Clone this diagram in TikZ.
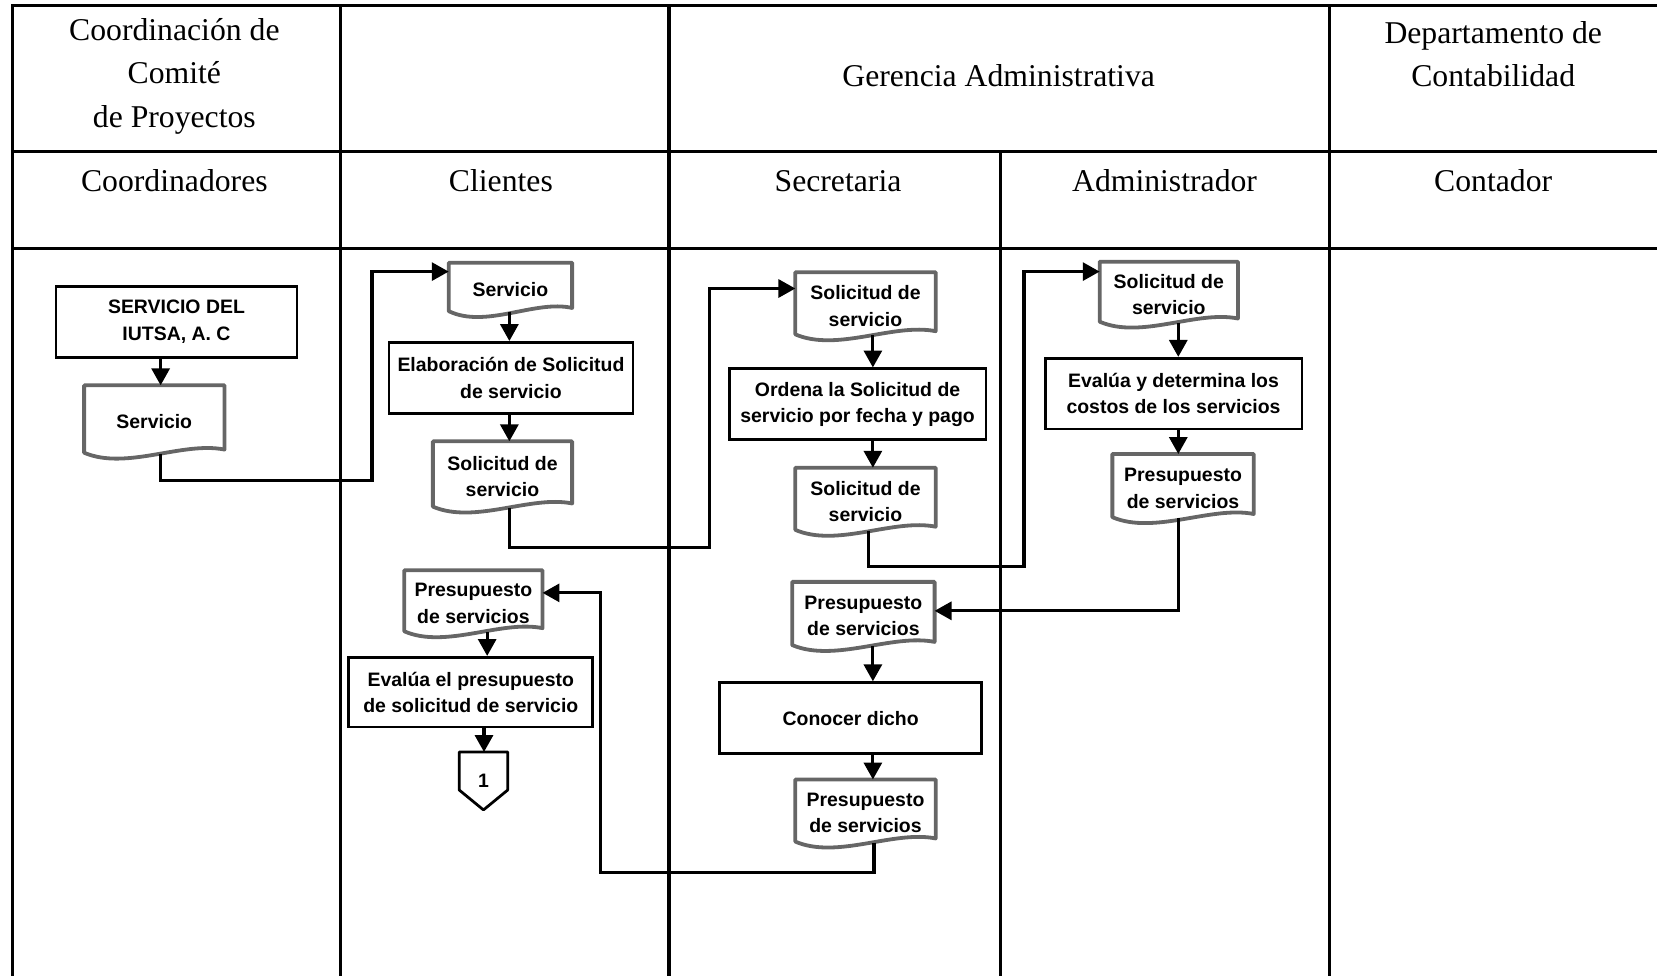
\documentclass[tikz,border=0pt]{standalone}
\usepackage{fontspec}
\setmainfont{Liberation Serif}
\setsansfont{Liberation Sans}
\usetikzlibrary{arrows.meta,calc}

\tikzset{
  grid/.style={line width=1.5pt, line cap=rect},
  headtext/.style={font=\rmfamily\fontsize{15}{20.5}\selectfont, align=center, inner sep=0pt},
  procbox/.style={draw, line width=1.3pt, inner sep=0pt, align=center,
    font=\sffamily\bfseries\fontsize{9.2}{12.5}\selectfont},
  docnode/.style={draw=none, inner sep=0pt, align=center,
    font=\sffamily\bfseries\fontsize{9.2}{12.5}\selectfont},
  docline/.style={draw=black!60, line width=1.8pt, line join=round},
  flow/.style={line width=1.5pt, -{Triangle[width=8.5pt,length=8pt]}},
}

% wavy-bottomed document outline around a named node
\newcommand\docoutline[1]{%
  \draw[docline] (#1.north west) -- (#1.north east) -- ([yshift=4pt]#1.south east)
    .. controls ($(#1.south)!0.4!(#1.south east)+(0,8pt)$)
       and ($(#1.south)!0.4!(#1.south west)+(0,-6pt)$) ..
    ([yshift=2.5pt]#1.south west) -- cycle;}

\begin{document}
\begin{tikzpicture}[x=0.5pt,y=-0.5pt]
\useasboundingbox (0,0) rectangle (1568,923);

% ---- swimlane grid ----
\draw[grid] (1568,5) -- (12,5) -- (12,930);
\draw[grid] (12,143) -- (1575,143);
\draw[grid] (12,235) -- (1575,235);
\draw[grid] (322,5) -- (322,930);
\draw[grid] (633,5) -- (633,930);
\draw[grid] (947,143) -- (947,930);
\draw[grid] (1258,5) -- (1258,930);

% ---- lane headers ----
\node[headtext] (h1) at (165,72) {Coordinación de\\Comité\\de Proyectos};
\node[headtext] (h2) at (945,72) {Gerencia Administrativa};
\node[headtext] (h3) at (1413,51) {Departamento de\\Contabilidad};
\node[headtext] (l1) at (165,171) {Coordinadores};
\node[headtext] (l2) at (474,171) {Clientes};
\node[headtext] (l3) at (793,171) {Secretaria};
\node[headtext] (l4) at (1102,171) {Administrador};
\node[headtext] (l5) at (1413,171) {Contador};

% ---- Coordinadores ----
\node[procbox, minimum width=114pt, minimum height=33.5pt] (r1) at (167,304.5) {SERVICIO DEL\\IUTSA, A. C};
\node[docnode, minimum width=66pt, minimum height=34pt] (d1) at (146,399) {Servicio};
\docoutline{d1}

% ---- Clientes ----
\node[docnode, minimum width=58pt, minimum height=25pt] (d2) at (483,274) {Servicio};
\docoutline{d2}
\node[procbox, minimum width=115.5pt, minimum height=33.5pt] (r2) at (483.5,357.5) {Elaboración de Solicitud\\de servicio};
\node[docnode, minimum width=65.5pt, minimum height=33pt] (d3) at (475.5,451) {Solicitud de\\servicio};
\docoutline{d3}
\node[docnode, minimum width=65pt, minimum height=31pt] (d4) at (448,571) {Presupuesto\\de servicios};
\docoutline{d4}
\node[procbox, minimum width=115.5pt, minimum height=33pt] (r3) at (445.5,655) {Evalúa el presupuesto\\de solicitud de servicio};
\node[docnode, minimum width=22.5pt, minimum height=27pt] (c1) at (457.5,739) {1};
\draw[line width=1.3pt, line join=round] (c1.north west) -- (c1.north east) -- ([yshift=-18pt]c1.north east)
  -- (c1.south) -- ([yshift=-18pt]c1.north west) -- cycle;

% ---- Secretaria ----
\node[docnode, minimum width=66pt, minimum height=31.5pt] (s1) at (819,289.5) {Solicitud de\\servicio};
\docoutline{s1}
\node[procbox, minimum width=121.5pt, minimum height=33.5pt] (r4) at (811.5,382.5) {Ordena la Solicitud de\\servicio por fecha y pago};
\node[docnode, minimum width=66pt, minimum height=31.5pt] (s2) at (819,474.5) {Solicitud de\\servicio};
\docoutline{s2}
\node[docnode, minimum width=67pt, minimum height=32pt] (s3) at (817,583) {Presupuesto\\de servicios};
\docoutline{s3}
\node[procbox, minimum width=124pt, minimum height=33.5pt] (r5) at (805,679.5) {Conocer dicho};
\node[docnode, minimum width=66pt, minimum height=31.5pt] (s4) at (819,769.5) {Presupuesto\\de servicios};
\docoutline{s4}

% ---- Administrador ----
\node[docnode, minimum width=65pt, minimum height=30.5pt] (a1) at (1106,278.5) {Solicitud de\\servicio};
\docoutline{a1}
\node[procbox, minimum width=121.5pt, minimum height=33.5pt] (r6) at (1110.5,372.5) {Evalúa y determina los\\costos de los servicios};
\node[docnode, minimum width=66.5pt, minimum height=32pt] (a2) at (1119.5,462) {Presupuesto\\de servicios};
\docoutline{a2}

% ---- vertical flow lines and bend points ----
\coordinate (vc) at (152,0);
\coordinate (vk) at (482,0);
\coordinate (vp) at (461,0);
\coordinate (ve) at (458,0);
\coordinate (vs) at (826,0);
\coordinate (vt) at (822,0);
\coordinate (vu) at (827,0);
\coordinate (va) at (1115,0);
\coordinate (j0) at (352,455);
\coordinate (j1) at (352,257);
\coordinate (j2) at (671,518);
\coordinate (j3) at (671,273);
\coordinate (j4) at (969,536);
\coordinate (j5) at (969,257);
\coordinate (j6) at (1115,578);
\coordinate (j7) at (568,826);
\coordinate (j8) at (568,561);

% straight arrows inside the lanes
\draw[flow] (r1.south -| vc) -- (d1.north -| vc);
\draw[flow] ([yshift=2pt]d2.south -| vk) -- (r2.north -| vk);
\draw[flow] (r2.south -| vk) -- (d3.north -| vk);
\draw[flow] ([yshift=2pt]d4.south -| vp) -- (r3.north -| vp);
\draw[flow] (r3.south -| ve) -- (c1.north -| ve);
\draw[flow] ([yshift=2pt]s1.south -| vs) -- (r4.north -| vs);
\draw[flow] (r4.south -| vs) -- (s2.north -| vs);
\draw[flow] ([yshift=2pt]s3.south -| vs) -- (r5.north -| vs);
\draw[flow] (r5.south -| vs) -- (s4.north -| vs);
\draw[flow] ([yshift=2pt]a1.south -| va) -- (r6.north -| va);
\draw[flow] (r6.south -| va) -- (a2.north -| va);

% routed connectors between lanes
\draw[flow] ([yshift=2pt]d1.south -| vc) |- (j0) -- (j1) -- (d2.west |- j1);
\draw[flow] ([yshift=2pt]d3.south -| vk) |- (j2) -- (j3) -- (s1.west |- j3);
\draw[flow] ([yshift=2pt]s2.south -| vt) |- (j4) -- (j5) -- (a1.west |- j5);
\draw[flow] ([yshift=2pt]a2.south -| va) -- (j6) -- (s3.east |- j6);
\draw[flow] ([yshift=2pt]s4.south -| vu) |- (j7) -- (j8) -- (d4.east |- j8);

\end{tikzpicture}
\end{document}
